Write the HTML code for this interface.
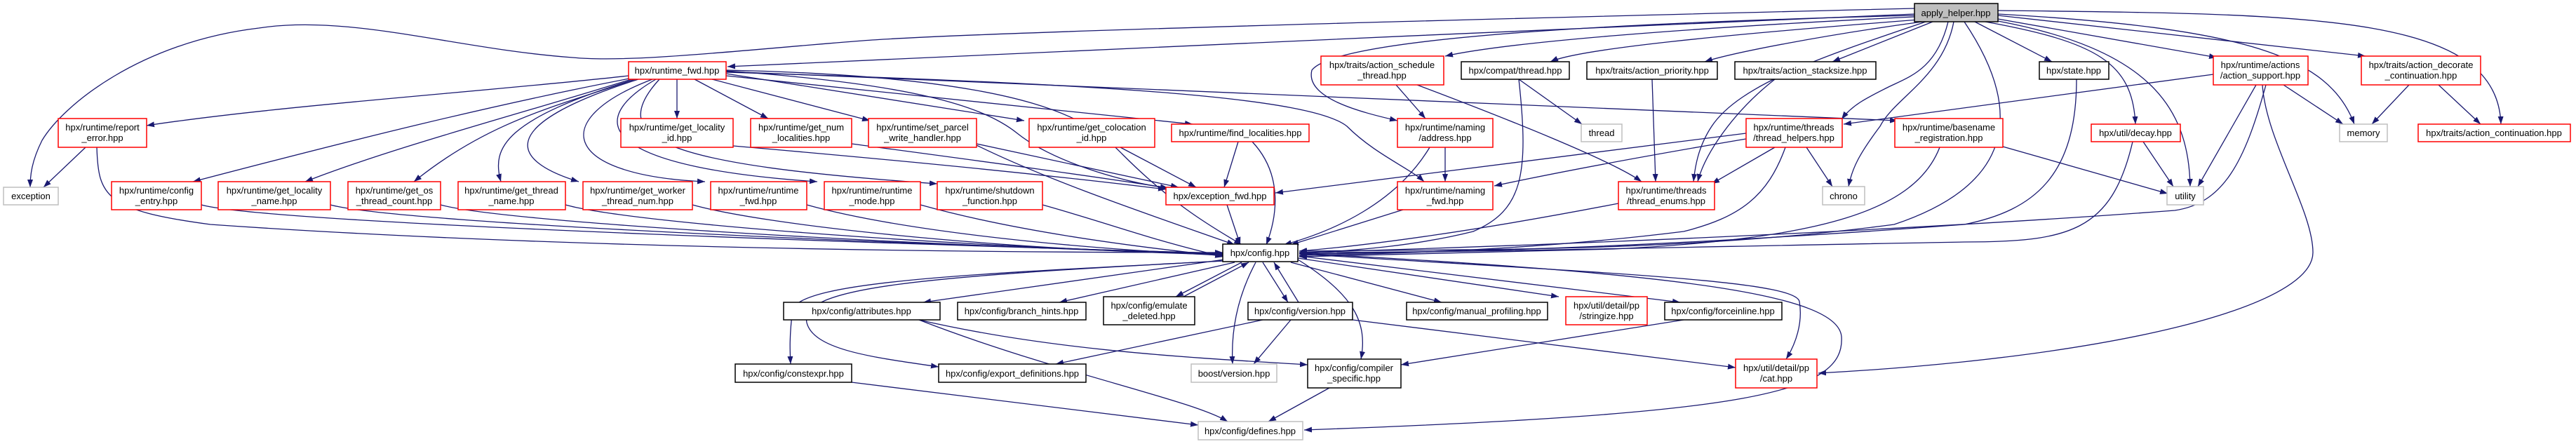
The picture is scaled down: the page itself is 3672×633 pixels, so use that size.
<!DOCTYPE html>
<html><head><meta charset="utf-8"><style>
html,body{margin:0;padding:0;background:#fff;}
svg{display:block;}
text{font-family:"Liberation Sans",sans-serif;font-size:13px;fill:#000;text-anchor:middle;}
.e{fill:none;stroke:#191970;stroke-width:1.3;marker-end:url(#a);}
.r{fill:#fff;stroke:#ff0000;stroke-width:1.5;}
.b{fill:#fff;stroke:#000;stroke-width:1.5;}
.g{fill:#fff;stroke:#bfbfbf;stroke-width:1.5;}
</style></head><body>
<svg width="3672" height="633" viewBox="0 0 3672 633" xmlns="http://www.w3.org/2000/svg">
<defs><marker id="a" markerUnits="userSpaceOnUse" markerWidth="12" markerHeight="10" refX="11" refY="4" orient="auto"><path d="M0,0 L11,4 L0,8 Z" fill="#191970"/></marker></defs>
<g>
<!-- apply_helper edges -->
<path class="e" d="M2729,12 C2200,25 1400,45 1230,58 S900,90 816,82 C650,70 500,20 369,40 C200,60 90,150 60,200 C45,230 43,250 43,267"/>
<path class="e" d="M2729,20 C2200,45 1500,70 1037,95"/>
<path class="e" d="M2729,24 C2400,40 2150,60 2060,80"/>
<path class="e" d="M2735,28 C2450,50 2250,70 2210,88"/>
<path class="e" d="M2740,31 C2600,50 2470,75 2430,88"/>
<path class="e" d="M2755,31 L2612,88"/>
<path class="e" d="M2815,31 L2925,88"/>
<path class="e" d="M2848,27 L3160,82"/>
<path class="e" d="M2848,22 L3372,80"/>
<path class="e" d="M2848,20 C3200,40 3320,80 3356,177"/>
<path class="e" d="M2848,15 C3300,20 3560,20 3565,177"/>
<path class="e" d="M2777,31 C2760,100 2720,110 2690,125 C2660,140 2640,150 2625,170"/>
<path class="e" d="M2785,31 C2770,110 2700,140 2680,180 C2650,220 2640,240 2635,266"/>
<path class="e" d="M2830,31 C2990,60 3040,90 3044,177"/>
<path class="e" d="M2848,30 C3060,70 3120,150 3122,266"/>
<path class="e" d="M2800,31 C2880,150 2880,260 2700,320 C2400,360 2100,355 1852,358"/>
<path class="e" d="M2729,22 C2200,35 1900,60 1870,100 C1860,140 1940,160 1992,172"/>
<path class="e" d="M2745,31 C2600,80 2480,120 2440,180 C2420,210 2416,240 2414,259"/>
<path class="e" d="M2530,113 C2470,160 2430,220 2420,259"/>
<path class="e" d="M2355,113 L2360,259"/>
<path class="e" d="M2020,121 C2150,170 2300,230 2340,259"/>
<path class="e" d="M1990,121 L2032,169"/>
<path class="e" d="M2165,113 L2255,177"/>
<path class="e" d="M2165,113 C2180,250 2170,300 2100,330 C2000,355 1900,358 1852,362"/>
<path class="e" d="M2960,113 C2960,250 2900,300 2800,320 C2400,350 2100,360 1852,362"/>
<path class="e" d="M2060,210 L2060,259"/>
<path class="e" d="M2038,210 C1990,290 1900,330 1830,349"/>
<path class="e" d="M2000,299 L1840,349"/>
<path class="e" d="M2307,290 C2100,330 1950,350 1852,358"/>
<path class="e" d="M2489,190 L1818,275"/>
<path class="e" d="M2489,198 C2300,230 2200,250 2130,265"/>
<path class="e" d="M2530,210 L2440,262"/>
<path class="e" d="M2575,210 L2612,266"/>
<path class="e" d="M2545,210 C2520,280 2480,310 2400,330 C2200,355 2000,362 1852,364"/>
<path class="e" d="M2855,209 L3090,276"/>
<path class="e" d="M2765,210 C2730,300 2600,340 2300,355 L1852,366"/>
<path class="e" d="M3055,202 L3098,266"/>
<path class="e" d="M3040,202 C3010,330 2950,345 2800,345 C2400,352 2100,360 1852,360"/>
<path class="e" d="M3155,106 L2628,177"/>
<path class="e" d="M3216,121 L3133,266"/>
<path class="e" d="M3255,121 L3340,177"/>
<path class="e" d="M3225,121 C3230,200 3297,300 3297,360 C3297,440 3000,510 2592,532"/>
<path class="e" d="M3230,121 C3200,230 3170,290 3100,300 C2700,330 2200,350 1852,360"/>
<path class="e" d="M3434,121 L3381,177"/>
<path class="e" d="M3476,121 L3536,177"/>
<!-- runtime_fwd edges -->
<path class="e" d="M896,108 C700,130 400,150 209,179"/>
<path class="e" d="M897,112 C700,150 500,200 275,259"/>
<path class="e" d="M900,113 C750,160 560,210 435,259"/>
<path class="e" d="M905,113 C800,150 700,170 590,259"/>
<path class="e" d="M905,113 C720,170 700,210 714,259"/>
<path class="e" d="M910,113 C700,180 730,230 825,259"/>
<path class="e" d="M930,113 C780,170 800,250 1005,259"/>
<path class="e" d="M935,113 C820,180 880,240 1165,259"/>
<path class="e" d="M940,113 C860,200 950,235 1336,262"/>
<path class="e" d="M965,113 L965,169"/>
<path class="e" d="M990,113 L1095,169"/>
<path class="e" d="M1015,113 L1240,172"/>
<path class="e" d="M1035,105 L1460,172"/>
<path class="e" d="M1035,108 L1700,177"/>
<path class="e" d="M1035,103 C1600,120 1870,140 1920,180 C1960,220 2010,240 2030,259"/>
<path class="e" d="M1035,101 C1300,120 1400,150 1450,190 C1500,230 1600,260 1665,268"/>
<path class="e" d="M1035,100 C1500,110 1560,180 1600,220 C1680,300 1740,330 1770,349"/>
<path class="e" d="M1035,102 L2705,172"/>
<path class="e" d="M122,210 L62,267"/>
<path class="e" d="M138,210 C140,280 150,300 300,320 C800,355 1400,360 1743,360"/>
<path class="e" d="M287,292 C387,320 1400,352 1743,361"/>
<path class="e" d="M471,292 C571,320 1400,353 1743,361"/>
<path class="e" d="M628,292 C728,320 1400,354 1743,362"/>
<path class="e" d="M806,292 C906,320 1400,354 1743,362"/>
<path class="e" d="M987,292 C1087,320 1400,355 1743,363"/>
<path class="e" d="M1150,292 C1250,320 1450,350 1743,364"/>
<path class="e" d="M1312,292 C1412,320 1550,345 1743,365"/>
<path class="e" d="M1486,292 C1586,320 1650,345 1745,366"/>
<path class="e" d="M1045,208 C1300,230 1500,250 1662,270"/>
<path class="e" d="M1214,205 C1400,230 1550,250 1665,268"/>
<path class="e" d="M1392,205 L1680,267"/>
<path class="e" d="M1392,207 C1500,260 1650,310 1760,349"/>
<path class="e" d="M1597,210 L1705,267"/>
<path class="e" d="M1765,202 L1745,267"/>
<path class="e" d="M1785,202 C1830,250 1820,310 1805,349"/>
<path class="e" d="M1749,292 L1768,349"/>
<!-- config edges -->
<path class="e" d="M1743,372 C1400,390 1150,400 1130,440 C1125,480 1126,500 1127,519"/>
<path class="e" d="M1743,372 C1300,395 1140,410 1150,460 C1160,500 1250,510 1338,523"/>
<path class="e" d="M1745,370 L1316,431"/>
<path class="e" d="M1760,374 L1510,431"/>
<path class="e" d="M1770,374 L1676,423"/>
<path class="e" d="M1687,423 L1780,374"/>
<path class="e" d="M1800,374 L1836,431"/>
<path class="e" d="M1851,431 L1816,374"/>
<path class="e" d="M1790,374 C1760,430 1755,480 1757,519"/>
<path class="e" d="M1850,370 C1930,420 1950,460 1940,512"/>
<path class="e" d="M1840,374 L2055,431"/>
<path class="e" d="M1850,368 L2222,423"/>
<path class="e" d="M1852,365 L2395,431"/>
<path class="e" d="M1852,362 C2300,390 2560,400 2565,430 C2570,460 2560,490 2546,512"/>
<path class="e" d="M1852,361 C2400,390 2620,420 2625,480 C2630,560 2500,590 1859,613"/>
<path class="e" d="M1310,456 C1500,500 1700,510 1864,520"/>
<path class="e" d="M1310,456 C1500,530 1700,570 1750,601"/>
<path class="e" d="M1214,545 L1708,606"/>
<path class="e" d="M1800,456 L1505,519"/>
<path class="e" d="M1840,456 L1787,519"/>
<path class="e" d="M1928,456 L2474,524"/>
<path class="e" d="M2400,456 L1997,520"/>
<path class="e" d="M1895,553 L1808,601"/>
</g>
<g>
<rect x="2729" y="5" width="119" height="26" fill="#bfbfbf" stroke="#000" stroke-width="1.5"/><text x="2788" y="23">apply_helper.hpp</text>
<rect class="r" x="896" y="88" width="139" height="25"/><text x="965" y="105">hpx/runtime_fwd.hpp</text>
<rect class="r" x="1883" y="80" width="175" height="41"/><text x="1970" y="97">hpx/traits/action_schedule</text><text x="1970" y="112">_thread.hpp</text>
<rect class="b" x="2083" y="88" width="154" height="25"/><text x="2160" y="105">hpx/compat/thread.hpp</text>
<rect class="b" x="2262" y="88" width="186" height="25"/><text x="2355" y="105">hpx/traits/action_priority.hpp</text>
<rect class="b" x="2473" y="88" width="201" height="25"/><text x="2573" y="105">hpx/traits/action_stacksize.hpp</text>
<rect class="b" x="2907" y="88" width="99" height="25"/><text x="2956" y="105">hpx/state.hpp</text>
<rect class="r" x="3155" y="80" width="135" height="41"/><text x="3222" y="97">hpx/runtime/actions</text><text x="3222" y="112">/action_support.hpp</text>
<rect class="r" x="3366" y="80" width="170" height="41"/><text x="3451" y="97">hpx/traits/action_decorate</text><text x="3451" y="112">_continuation.hpp</text>
<rect class="r" x="83" y="169" width="126" height="41"/><text x="146" y="186">hpx/runtime/report</text><text x="146" y="201">_error.hpp</text>
<rect class="r" x="885" y="169" width="160" height="41"/><text x="965" y="186">hpx/runtime/get_locality</text><text x="965" y="201">_id.hpp</text>
<rect class="r" x="1070" y="169" width="144" height="41"/><text x="1142" y="186">hpx/runtime/get_num</text><text x="1142" y="201">_localities.hpp</text>
<rect class="r" x="1238" y="169" width="154" height="41"/><text x="1315" y="186">hpx/runtime/set_parcel</text><text x="1315" y="201">_write_handler.hpp</text>
<rect class="r" x="1467" y="169" width="179" height="41"/><text x="1556" y="186">hpx/runtime/get_colocation</text><text x="1556" y="201">_id.hpp</text>
<rect class="r" x="1670" y="177" width="196" height="25"/><text x="1768" y="194">hpx/runtime/find_localities.hpp</text>
<rect class="r" x="1992" y="169" width="136" height="41"/><text x="2060" y="186">hpx/runtime/naming</text><text x="2060" y="201">/address.hpp</text>
<rect class="g" x="2254" y="177" width="58" height="25"/><text x="2283" y="194">thread</text>
<rect class="r" x="2489" y="169" width="137" height="41"/><text x="2557" y="186">hpx/runtime/threads</text><text x="2557" y="201">/thread_helpers.hpp</text>
<rect class="r" x="2701" y="169" width="154" height="41"/><text x="2778" y="186">hpx/runtime/basename</text><text x="2778" y="201">_registration.hpp</text>
<rect class="r" x="2981" y="177" width="127" height="25"/><text x="3044" y="194">hpx/util/decay.hpp</text>
<rect class="g" x="3335" y="177" width="68" height="25"/><text x="3369" y="194">memory</text>
<rect class="r" x="3447" y="177" width="217" height="25"/><text x="3555" y="194">hpx/traits/action_continuation.hpp</text>
<rect class="g" x="5" y="267" width="78" height="25"/><text x="44" y="284">exception</text>
<rect class="r" x="159" y="259" width="128" height="40"/><text x="223" y="276">hpx/runtime/config</text><text x="223" y="291">_entry.hpp</text>
<rect class="r" x="311" y="259" width="160" height="40"/><text x="391" y="276">hpx/runtime/get_locality</text><text x="391" y="291">_name.hpp</text>
<rect class="r" x="496" y="259" width="132" height="40"/><text x="562" y="276">hpx/runtime/get_os</text><text x="562" y="291">_thread_count.hpp</text>
<rect class="r" x="653" y="259" width="153" height="40"/><text x="729" y="276">hpx/runtime/get_thread</text><text x="729" y="291">_name.hpp</text>
<rect class="r" x="831" y="259" width="156" height="40"/><text x="909" y="276">hpx/runtime/get_worker</text><text x="909" y="291">_thread_num.hpp</text>
<rect class="r" x="1013" y="259" width="137" height="40"/><text x="1081" y="276">hpx/runtime/runtime</text><text x="1081" y="291">_fwd.hpp</text>
<rect class="r" x="1175" y="259" width="137" height="40"/><text x="1243" y="276">hpx/runtime/runtime</text><text x="1243" y="291">_mode.hpp</text>
<rect class="r" x="1336" y="259" width="150" height="40"/><text x="1411" y="276">hpx/runtime/shutdown</text><text x="1411" y="291">_function.hpp</text>
<rect class="r" x="1662" y="267" width="154" height="25"/><text x="1739" y="284">hpx/exception_fwd.hpp</text>
<rect class="r" x="1992" y="259" width="136" height="40"/><text x="2060" y="276">hpx/runtime/naming</text><text x="2060" y="291">_fwd.hpp</text>
<rect class="r" x="2307" y="259" width="137" height="40"/><text x="2375" y="276">hpx/runtime/threads</text><text x="2375" y="291">/thread_enums.hpp</text>
<rect class="g" x="2598" y="266" width="60" height="26"/><text x="2628" y="284">chrono</text>
<rect class="g" x="3089" y="266" width="52" height="26"/><text x="3115" y="284">utility</text>
<rect class="b" x="1743" y="348" width="107" height="25"/><text x="1796" y="365">hpx/config.hpp</text>
<rect class="b" x="1117" y="431" width="223" height="25"/><text x="1228" y="448">hpx/config/attributes.hpp</text>
<rect class="b" x="1365" y="431" width="183" height="25"/><text x="1456" y="448">hpx/config/branch_hints.hpp</text>
<rect class="b" x="1573" y="423" width="130" height="40"/><text x="1638" y="440">hpx/config/emulate</text><text x="1638" y="455">_deleted.hpp</text>
<rect class="b" x="1779" y="431" width="149" height="25"/><text x="1853" y="448">hpx/config/version.hpp</text>
<rect class="b" x="2005" y="431" width="201" height="25"/><text x="2105" y="448">hpx/config/manual_profiling.hpp</text>
<rect class="r" x="2232" y="423" width="116" height="40"/><text x="2290" y="440">hpx/util/detail/pp</text><text x="2290" y="455">/stringize.hpp</text>
<rect class="b" x="2373" y="431" width="167" height="25"/><text x="2456" y="448">hpx/config/forceinline.hpp</text>
<rect class="b" x="1048" y="519" width="166" height="26"/><text x="1131" y="537">hpx/config/constexpr.hpp</text>
<rect class="b" x="1338" y="519" width="210" height="26"/><text x="1443" y="537">hpx/config/export_definitions.hpp</text>
<rect class="g" x="1698" y="519" width="122" height="26"/><text x="1759" y="537">boost/version.hpp</text>
<rect class="b" x="1864" y="512" width="133" height="41"/><text x="1930" y="529">hpx/config/compiler</text><text x="1930" y="544">_specific.hpp</text>
<rect class="r" x="2474" y="512" width="116" height="41"/><text x="2532" y="529">hpx/util/detail/pp</text><text x="2532" y="544">/cat.hpp</text>
<rect class="g" x="1708" y="601" width="149" height="26"/><text x="1782" y="619">hpx/config/defines.hpp</text>
</g>
</svg>
</body></html>
